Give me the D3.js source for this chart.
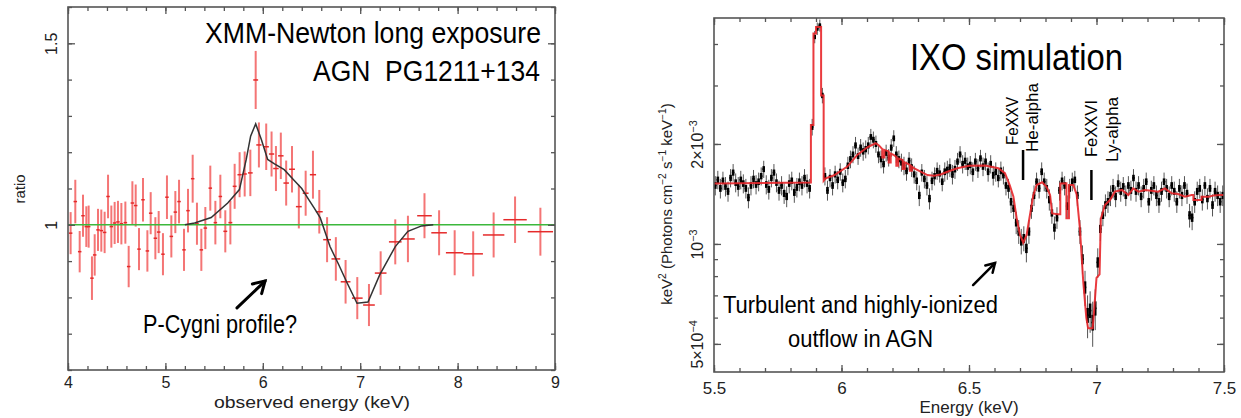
<!DOCTYPE html>
<html>
<head>
<meta charset="utf-8">
<script src="https://cdn.jsdelivr.net/npm/d3@7"></script>
<style>
  body { margin: 0; background: #fff; }
  svg { display: block; font-family: "Liberation Sans", Arial, Helvetica, sans-serif; }
</style>
</head>
<body>
<script>
// ---------- left panel: XMM-Newton ratio ----------
var xmmEnergy = [4.027,4.075,4.120,4.154,4.188,4.212,4.246,4.274,4.308,4.342,
  4.376,4.411,4.445,4.479,4.513,4.548,4.589,4.623,4.661,4.695,
  4.729,4.770,4.815,4.849,4.897,4.931,4.975,5.016,5.061,5.102,
  5.140,5.191,5.232,5.280,5.324,5.369,5.410,5.461,5.513,5.564,
  5.615,5.667,5.711,5.762,5.814,5.872,5.927,
  5.96,6.035,6.09,6.135,6.185,6.24,6.30,6.37,6.44,6.515,
  6.58,6.66,6.75,6.85,6.97,7.09,7.21,7.36,7.49,7.66,7.81,7.97,8.16,8.37,8.59,8.85];
var xmmRatio = [0.977,1.064,0.926,1.025,0.995,0.995,0.853,0.917,0.986,0.984,
  0.979,1.078,0.995,1.005,1.008,1.003,1.006,0.885,1.060,1.053,
  0.933,1.069,0.928,1.032,0.963,0.980,0.919,1.076,0.968,1.035,
  1.064,0.931,1.039,1.127,1.003,0.931,0.991,1.101,1.006,1.078,
  0.982,1.006,1.106,1.138,1.140,1.143,1.399,
  1.22,1.215,1.195,1.155,1.19,1.115,1.153,1.05,1.087,1.138,
  1.036,0.959,0.906,0.843,0.798,0.779,0.867,0.953,0.961,1.025,0.978,0.923,0.92,0.972,1.014,0.981];
var xmmHalfWidth = [0.018,0.018,0.018,0.018,0.018,0.018,0.018,0.018,0.018,0.018,
  0.018,0.018,0.018,0.018,0.018,0.018,0.018,0.018,0.018,0.018,
  0.018,0.018,0.018,0.018,0.018,0.018,0.018,0.018,0.018,0.018,
  0.018,0.018,0.018,0.018,0.018,0.018,0.018,0.018,0.018,0.018,
  0.02,0.02,0.02,0.022,0.022,0.024,0.025,
  0.027,0.027,0.027,0.028,0.028,0.028,0.03,0.03,0.03,0.032,
  0.035,0.04,0.045,0.05,0.055,0.06,0.06,0.065,0.07,0.075,0.08,0.09,0.1,0.11,0.12,0.13];
var xmmErr = [0.058,0.060,0.057,0.058,0.056,0.058,0.060,0.057,0.058,0.058,
  0.057,0.060,0.058,0.058,0.058,0.057,0.058,0.057,0.060,0.058,
  0.058,0.060,0.057,0.058,0.058,0.058,0.058,0.060,0.058,0.058,
  0.060,0.058,0.060,0.066,0.058,0.058,0.058,0.062,0.060,0.060,
  0.058,0.060,0.062,0.062,0.062,0.064,0.080,
  0.062,0.064,0.062,0.062,0.064,0.062,0.064,0.060,0.062,0.066,
  0.060,0.062,0.060,0.060,0.058,0.058,0.060,0.062,0.064,0.062,0.062,0.062,0.062,0.062,0.064,0.066];
var xmmModelE = [5.2,5.3,5.47,5.64,5.76,5.83,5.875,5.927,5.985,6.05,6.12,6.22,6.33,6.40,6.47,6.53,6.59,
  6.69,6.78,6.86,6.967,7.08,7.2,7.36,7.49,7.63,7.75];
var xmmModelR = [1.0,1.005,1.02,1.06,1.097,1.18,1.244,1.278,1.235,1.18,1.168,1.152,1.12,1.10,1.07,1.045,1.019,
  0.94,0.89,0.843,0.784,0.787,0.862,0.94,0.982,0.997,1.0];
var xmmXTicks = [4,5,6,7,8,9];
var xmmYTicks = [1,1.5];

// ---------- right panel: IXO simulation (flux in units of 1e-3) ----------
var ixoEnergy = [5.505,5.515,5.525,5.535,5.545,5.555,5.565,5.575,5.585,5.595,
  5.605,5.615,5.625,5.635,5.645,5.655,5.665,5.675,5.685,5.695,
  5.705,5.715,5.725,5.735,5.745,5.755,5.765,5.775,5.785,5.795,
  5.805,5.815,5.825,5.835,5.845,5.855,5.865,5.875,5.885,5.895,
  5.905,5.915,5.925,5.935,5.945,5.955,5.965,5.975,5.985,5.995,
  6.005,6.015,6.025,6.035,6.045,6.055,6.065,6.075,6.085,6.095,
  6.105,6.115,6.125,6.135,6.145,6.155,6.165,6.175,6.185,6.195,
  6.205,6.215,6.225,6.235,6.245,6.255,6.265,6.275,6.285,6.295,
  6.305,6.315,6.325,6.335,6.345,6.355,6.365,6.375,6.385,6.395,
  6.405,6.415,6.425,6.435,6.445,6.455,6.465,6.475,6.485,6.495,
  6.505,6.515,6.525,6.535,6.545,6.555,6.565,6.575,6.585,6.595,
  6.605,6.615,6.625,6.635,6.645,6.655,6.665,6.675,6.685,6.695,
  6.705,6.715,6.725,6.735,6.745,6.755,6.765,6.775,6.785,6.795,
  6.805,6.815,6.825,6.835,6.845,6.855,6.865,6.875,6.885,6.895,
  6.905,6.915,6.925,6.935,6.945,6.955,6.965,6.975,6.985,6.995,
  7.005,7.015,7.025,7.035,7.045,7.055,7.065,7.075,7.085,7.095,
  7.105,7.115,7.125,7.135,7.145,7.155,7.165,7.175,7.185,7.195,
  7.205,7.215,7.225,7.235,7.245,7.255,7.265,7.275,7.285,7.295,
  7.305,7.315,7.325,7.335,7.345,7.355,7.365,7.375,7.385,7.395,
  7.405,7.415,7.425,7.435,7.445,7.455,7.465,7.475,7.485,7.495];
var ixoFlux = [1.50,1.56,1.47,1.55,1.49,1.44,1.58,1.64,1.53,1.49,
  1.56,1.52,1.47,1.38,1.50,1.57,1.51,1.54,1.60,1.68,
  1.51,1.46,1.58,1.64,1.53,1.45,1.50,1.42,1.39,1.52,
  1.55,1.43,1.48,1.54,1.50,1.58,1.52,1.47,2.25,4.20,
  4.45,4.55,2.80,1.60,1.45,1.58,1.50,1.62,1.56,1.65,
  1.53,1.57,1.72,1.80,1.86,1.98,1.84,1.95,1.90,1.93,
  1.98,2.10,2.06,2.00,1.86,1.80,1.74,1.88,1.82,1.95,
  2.08,1.86,1.80,1.76,1.72,1.66,1.78,1.70,1.62,1.55,
  1.40,1.64,1.57,1.50,1.37,1.55,1.60,1.66,1.63,1.54,
  1.65,1.67,1.70,1.62,1.68,1.77,1.86,1.74,1.78,1.71,
  1.73,1.65,1.77,1.69,1.81,1.71,1.77,1.65,1.74,1.61,
  1.65,1.58,1.66,1.61,1.50,1.47,1.34,1.28,1.16,1.09,
  1.02,1.04,0.97,1.09,1.28,1.40,1.54,1.47,1.65,1.54,
  1.47,1.36,1.24,1.12,1.20,1.45,1.55,1.50,1.30,1.47,
  1.54,1.56,1.40,1.09,0.90,0.74,0.61,0.63,0.58,0.64,
  0.88,1.11,1.22,1.31,1.34,1.40,1.47,1.39,1.52,1.44,
  1.49,1.40,1.50,1.45,1.58,1.44,1.50,1.39,1.47,1.54,
  1.34,1.45,1.50,1.40,1.34,1.44,1.54,1.47,1.39,1.50,
  1.44,1.34,1.47,1.40,1.50,1.42,1.22,1.20,1.34,1.44,
  1.47,1.36,1.50,1.37,1.47,1.31,1.44,1.40,1.34,1.40];
var ixoErr = [0.10,0.10,0.10,0.10,0.10,0.10,0.10,0.10,0.10,0.10,
  0.10,0.10,0.10,0.10,0.10,0.10,0.10,0.10,0.10,0.10,
  0.10,0.10,0.10,0.10,0.10,0.10,0.10,0.10,0.10,0.10,
  0.10,0.10,0.10,0.10,0.10,0.10,0.10,0.10,0.13,0.18,
  0.19,0.19,0.15,0.10,0.10,0.10,0.10,0.10,0.10,0.10,
  0.10,0.10,0.11,0.11,0.11,0.12,0.11,0.12,0.12,0.12,
  0.12,0.12,0.12,0.12,0.11,0.11,0.11,0.11,0.11,0.12,
  0.12,0.11,0.11,0.11,0.11,0.11,0.11,0.11,0.10,0.10,
  0.10,0.10,0.10,0.10,0.10,0.10,0.10,0.10,0.10,0.10,
  0.11,0.11,0.11,0.11,0.11,0.11,0.11,0.11,0.11,0.11,
  0.11,0.11,0.11,0.11,0.11,0.11,0.11,0.11,0.11,0.11,
  0.11,0.10,0.11,0.10,0.10,0.10,0.10,0.09,0.09,0.09,
  0.09,0.09,0.09,0.09,0.09,0.10,0.10,0.10,0.11,0.10,
  0.10,0.10,0.09,0.09,0.09,0.10,0.10,0.10,0.10,0.10,
  0.10,0.10,0.10,0.09,0.09,0.09,0.09,0.09,0.09,0.09,
  0.09,0.09,0.09,0.10,0.10,0.10,0.10,0.10,0.10,0.10,
  0.10,0.10,0.10,0.10,0.10,0.10,0.10,0.10,0.10,0.10,
  0.10,0.10,0.10,0.10,0.10,0.10,0.10,0.10,0.10,0.10,
  0.10,0.10,0.10,0.10,0.10,0.10,0.10,0.10,0.10,0.10,
  0.10,0.10,0.10,0.10,0.10,0.10,0.10,0.10,0.10,0.10];
var ixoModelE = [5.5,5.88,5.88,5.89,5.89,5.90,5.90,5.92,5.92,5.93,5.93,5.938,5.971,6.023,6.062,6.101,6.134,6.147,
  6.16,6.16,6.168,6.168,6.185,6.185,6.193,6.193,6.206,6.215,6.215,6.222,6.222,6.24,6.24,6.248,6.248,
  6.268,6.268,6.276,6.276,6.284,6.31,6.337,6.363,6.389,6.415,6.454,6.5,6.563,6.615,6.641,6.66,6.674,
  6.687,6.70,6.713,6.726,6.739,6.752,6.765,6.787,6.804,6.818,6.826,6.85,6.858,6.858,6.882,6.882,6.892,6.892,
  6.909,6.922,6.935,6.948,6.960,6.967,6.985,6.99,7.0,7.012,7.017,7.033,7.053,7.072,7.1,7.125,7.144,7.165,
  7.19,7.215,7.242,7.268,7.295,7.32,7.347,7.373,7.38,7.38,7.412,7.412,7.44,7.46,7.484,7.5];
var ixoModelF = [1.52,1.53,2.28,2.28,4.30,4.30,4.50,4.50,2.80,2.80,1.55,1.576,1.61,1.71,1.854,1.955,2.01,1.98,
  1.93,1.82,1.82,1.92,1.90,1.76,1.76,1.87,1.85,1.83,1.72,1.72,1.81,1.79,1.68,1.68,1.76,
  1.73,1.66,1.66,1.71,1.69,1.65,1.612,1.605,1.618,1.65,1.69,1.72,1.722,1.69,1.633,1.50,1.39,
  1.194,1.064,1.009,1.064,1.222,1.40,1.504,1.533,1.487,1.404,1.236,1.228,1.228,1.52,1.522,1.194,1.194,1.504,
  1.504,1.41,1.11,0.77,0.60,0.557,0.557,0.62,0.79,0.81,1.19,1.31,1.356,1.437,1.454,1.404,1.47,1.437,
  1.454,1.445,1.437,1.47,1.42,1.414,1.387,1.404,1.404,1.356,1.356,1.387,1.387,1.40,1.404,1.404];
var ixoXTicks = [5.5,6,6.5,7,7.5];
var ixoYTicks = [0.5,1,2];
var ixoYTickMant = ["5×10","10","2×10"];
var ixoYTickExp = ["−4","−3","−3"];
var ixoLineE = [6.712,6.98];

var svg = d3.select("body").append("svg").attr("width",1241).attr("height",418);

// inward ticks on all four sides of a box
function boxTicks(g, x, y, xMaj, xMin, yMaj, yMin) {
  var x0 = x.range()[0], x1 = x.range()[1], y0 = y.range()[0], y1 = y.range()[1];
  var sets = [
    [d3.axisBottom, x, xMin, 4, "translate(0," + y0 + ")"],
    [d3.axisBottom, x, xMaj, 7, "translate(0," + y0 + ")"],
    [d3.axisTop, x, xMin, 4, "translate(0," + y1 + ")"],
    [d3.axisTop, x, xMaj, 7, "translate(0," + y1 + ")"],
    [d3.axisLeft, y, yMin, 4, "translate(" + x0 + ",0)"],
    [d3.axisLeft, y, yMaj, 7, "translate(" + x0 + ",0)"],
    [d3.axisRight, y, yMin, 4, "translate(" + x1 + ",0)"],
    [d3.axisRight, y, yMaj, 7, "translate(" + x1 + ",0)"]
  ];
  sets.forEach(function(s) {
    var a = g.append("g").attr("transform", s[4])
      .call(s[0](s[1]).tickValues(s[2]).tickSizeInner(-s[3]).tickSizeOuter(0).tickFormat(""));
    a.select(".domain").remove();
    a.selectAll(".tick line").attr("stroke","#555").attr("stroke-width",1.3);
  });
  g.append("rect").attr("x",x0).attr("y",y1).attr("width",x1-x0).attr("height",y0-y1)
    .attr("fill","none").attr("stroke","#555").attr("stroke-width",1.6);
}

function arrow(g, xa, ya, xb, yb, w, head) {
  var ang = Math.atan2(yb-ya, xb-xa);
  g.append("line").attr("x1",xa).attr("y1",ya).attr("x2",xb).attr("y2",yb)
    .attr("stroke","#000").attr("stroke-width",w).attr("stroke-linecap","round");
  var p = [ang+2.6, ang-2.6].map(function(t){ return [xb+head*Math.cos(t), yb+head*Math.sin(t)]; });
  g.append("path").attr("d","M"+p[0]+"L"+xb+","+yb+"L"+p[1])
    .attr("fill","none").attr("stroke","#000").attr("stroke-width",w)
    .attr("stroke-linecap","round").attr("stroke-linejoin","miter");
}

// text with superscripts: parts = [[text, isSup], ...]
function supText(sel, parts, size) {
  parts.forEach(function(p, i) {
    var t = sel.append("tspan").text(p[0]);
    if (p[1]) t.attr("font-size", size*0.68).attr("dy", -size*0.38);
    else if (i > 0 && parts[i-1][1]) t.attr("dy", size*0.38);
  });
}

// ===== left panel =====
var xL = d3.scaleLinear().domain([4,9]).range([68,555]);
var yL = d3.scaleLinear().domain([0.6,1.6]).range([370,7]);
var gL = svg.append("g");

var xmm = xmmEnergy.map(function(e,i){
  return {e:e, r:xmmRatio[i], hw:xmmHalfWidth[i], err:xmmErr[i]};
});
gL.selectAll("line.ev").data(xmm).enter().append("line").attr("class","ev")
  .attr("x1",function(d){return xL(d.e);}).attr("x2",function(d){return xL(d.e);})
  .attr("y1",function(d){return yL(d.r-d.err);}).attr("y2",function(d){return yL(d.r+d.err);})
  .attr("stroke","#f03a3a").attr("stroke-opacity",0.7).attr("stroke-width",2);
gL.selectAll("line.eh").data(xmm).enter().append("line").attr("class","eh")
  .attr("x1",function(d){return xL(d.e-d.hw);}).attr("x2",function(d){return xL(d.e+d.hw);})
  .attr("y1",function(d){return yL(d.r);}).attr("y2",function(d){return yL(d.r);})
  .attr("stroke","#e52a2a").attr("stroke-width",1.5);

gL.append("line").attr("x1",xL(4)).attr("x2",xL(9)).attr("y1",yL(1)).attr("y2",yL(1))
  .attr("stroke","#3cb83c").attr("stroke-width",1.5);

gL.append("path").datum(xmmModelE.map(function(e,i){return [e,xmmModelR[i]];}))
  .attr("d", d3.line().x(function(d){return xL(d[0]);}).y(function(d){return yL(d[1]);}))
  .attr("fill","none").attr("stroke","#333").attr("stroke-width",1.5);

boxTicks(gL, xL, yL, xmmXTicks, xL.ticks(25), xmmYTicks, yL.ticks(10));

var axL = gL.append("g").attr("transform","translate(0,370)")
  .call(d3.axisBottom(xL).tickValues(xmmXTicks).tickSize(0).tickPadding(7).tickFormat(d3.format("d")));
axL.select(".domain").remove();
axL.selectAll("text").attr("font-size",16).attr("font-family",null).attr("fill","#222");

var ayL = gL.append("g").attr("transform","translate(68,0)")
  .call(d3.axisLeft(yL).tickValues(xmmYTicks).tickSize(0).tickFormat(d3.format("")));
ayL.select(".domain").remove();
ayL.selectAll("text").attr("font-size",16).attr("font-family",null).attr("fill","#222")
  .attr("transform","rotate(-90)").attr("x",0).attr("y",-11).attr("dy",0).attr("text-anchor","middle");

gL.append("text").attr("transform","translate(25,189) rotate(-90)").attr("text-anchor","middle")
  .attr("font-size",15).attr("fill","#222").text("ratio");
gL.append("text").attr("x",312).attr("y",408).attr("text-anchor","middle")
  .attr("font-size",16).attr("fill","#222").attr("textLength",196).attr("lengthAdjust","spacingAndGlyphs")
  .text("observed energy (keV)");

gL.append("text").attr("x",541).attr("y",43).attr("text-anchor","end").attr("font-size",29)
  .attr("textLength",336).attr("lengthAdjust","spacingAndGlyphs").text("XMM-Newton long exposure");
gL.append("text").attr("x",540).attr("y",81).attr("text-anchor","end").attr("font-size",29)
  .style("white-space","pre").attr("textLength",227).attr("lengthAdjust","spacingAndGlyphs")
  .text("AGN  PG1211+134");
gL.append("text").attr("x",143).attr("y",333).attr("font-size",26)
  .attr("textLength",154).attr("lengthAdjust","spacingAndGlyphs").text("P-Cygni profile?");
arrow(gL, xL(5.735), yL(0.771), xL(6.023), yL(0.845), 3, 13);

// ===== right panel =====
var xR = d3.scaleLinear().domain([5.5,7.5]).range([714,1224]);
var yR = d3.scaleLog().domain([0.4115,4.79]).range([372,18]);
var gR = svg.append("g");

var ixo = ixoEnergy.map(function(e,i){ return {e:e, f:ixoFlux[i], err:ixoErr[i]}; });
var binW = 0.005;
gR.selectAll("line.w").data(ixo).enter().append("line").attr("class","w")
  .attr("x1",function(d){return xR(d.e);}).attr("x2",function(d){return xR(d.e);})
  .attr("y1",function(d){return yR(d.f-d.err);}).attr("y2",function(d){return yR(d.f+d.err);})
  .attr("stroke","#555").attr("stroke-width",1);
gR.selectAll("line.h").data(ixo).enter().append("line").attr("class","h")
  .attr("x1",function(d){return xR(d.e-binW);}).attr("x2",function(d){return xR(d.e+binW);})
  .attr("y1",function(d){return yR(d.f);}).attr("y2",function(d){return yR(d.f);})
  .attr("stroke","#000").attr("stroke-width",1.6);
gR.selectAll("line.c").data(ixo).enter().append("line").attr("class","c")
  .attr("x1",function(d){return xR(d.e);}).attr("x2",function(d){return xR(d.e);})
  .attr("y1",function(d){return yR(d.f-d.err*0.35);}).attr("y2",function(d){return yR(d.f+d.err*0.35);})
  .attr("stroke","#000").attr("stroke-width",2.6);

gR.append("path").datum(ixoModelE.map(function(e,i){return [e,ixoModelF[i]];}))
  .attr("d", d3.line().x(function(d){return xR(d[0]);}).y(function(d){return yR(d[1]);}))
  .attr("fill","none").attr("stroke","#e8262a").attr("stroke-width",2).attr("stroke-opacity",0.9);

boxTicks(gR, xR, yR, ixoXTicks, xR.ticks(20), ixoYTicks, yR.ticks());

var axR = gR.append("g").attr("transform","translate(0,372)")
  .call(d3.axisBottom(xR).tickValues(ixoXTicks).tickSize(0).tickPadding(10).tickFormat(d3.format("")));
axR.select(".domain").remove();
axR.selectAll("text").attr("font-size",17).attr("font-family",null).attr("fill","#222");

var ayR = gR.append("g").attr("transform","translate(714,0)")
  .call(d3.axisLeft(yR).tickValues(ixoYTicks).tickSize(0).tickFormat(""));
ayR.select(".domain").remove();
ayR.selectAll(".tick text").attr("font-size",16).attr("font-family",null).attr("fill","#222")
  .attr("transform","rotate(-90)").attr("x",0).attr("y",-11).attr("dy",0).attr("text-anchor","middle")
  .each(function(d,i){ supText(d3.select(this), [[ixoYTickMant[i],false],[ixoYTickExp[i],true]], 16); });

var yLab = gR.append("text").attr("transform","translate(672,204) rotate(-90)").attr("text-anchor","middle")
  .attr("font-size",15).attr("fill","#222");
supText(yLab, [["keV",false],["2",true],[" (Photons cm",false],["−2",true],[" s",false],["−1",true],
  [" keV",false],["−1",true],[")",false]], 15);
gR.append("text").attr("x",969).attr("y",413).attr("text-anchor","middle")
  .attr("font-size",17).attr("fill","#222").text("Energy (keV)");

gR.append("text").attr("x",910).attr("y",70).attr("font-size",37)
  .attr("textLength",213).attr("lengthAdjust","spacingAndGlyphs").text("IXO simulation");
gR.append("text").attr("x",723).attr("y",313).attr("font-size",23)
  .attr("textLength",275).attr("lengthAdjust","spacingAndGlyphs").text("Turbulent and highly-ionized");
gR.append("text").attr("x",788).attr("y",347).attr("font-size",23)
  .attr("textLength",145).attr("lengthAdjust","spacingAndGlyphs").text("outflow in AGN");
arrow(gR, xR(6.516), yR(0.752), xR(6.602), yR(0.876), 2.5, 10);

// line markers and labels
var markTop = [150,170], markBot = [180,200];
gR.selectAll("line.mk").data(ixoLineE).enter().append("line").attr("class","mk")
  .attr("x1",function(d){return xR(d);}).attr("x2",function(d){return xR(d);})
  .attr("y1",function(d,i){return markTop[i];}).attr("y2",function(d,i){return markBot[i];})
  .attr("stroke","#000").attr("stroke-width",2.5);
var lineLabels = [
  {t:"FeXXV", x:xR(ixoLineE[0])-5, y:145, len:48},
  {t:"He-alpha", x:xR(ixoLineE[0])+15, y:152, len:69},
  {t:"FeXXVI", x:xR(ixoLineE[1])+6, y:157, len:57},
  {t:"Ly-alpha", x:xR(ixoLineE[1])+27, y:162, len:65}
];
gR.selectAll("text.ll").data(lineLabels).enter().append("text").attr("class","ll")
  .attr("transform",function(d){return "translate("+d.x+","+d.y+") rotate(-90)";})
  .attr("font-size",17).attr("textLength",function(d){return d.len;})
  .attr("lengthAdjust","spacingAndGlyphs").text(function(d){return d.t;});
</script>
</body>
</html>
